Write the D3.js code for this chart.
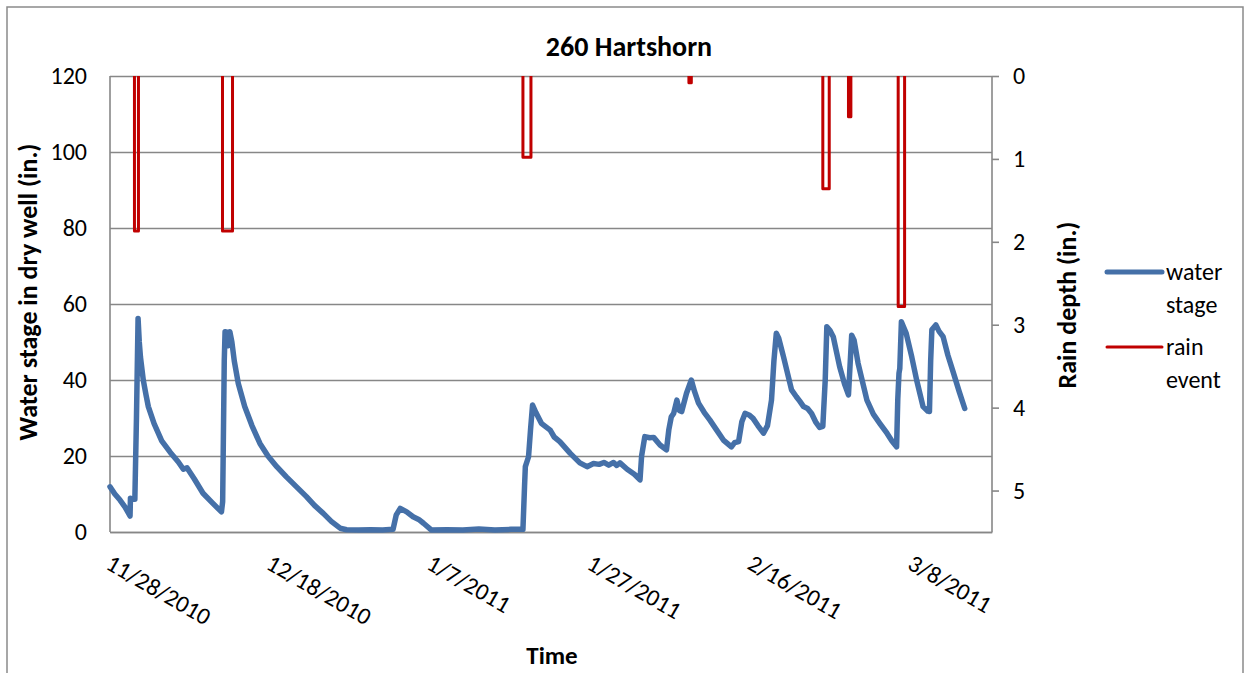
<!DOCTYPE html>
<html>
<head>
<meta charset="utf-8">
<script src="https://cdn.jsdelivr.net/npm/d3@7/dist/d3.min.js"></script>
<style>
  html, body { margin: 0; padding: 0; background: #fff; }
  svg { display: block; }
  text { font-family: Carlito, Calibri, Lato, "Open Sans", sans-serif; fill: #000; }
</style>
</head>
<body>
<svg id="chart" width="1250" height="673"></svg>
<script>
// ---------------- DATA ----------------
const chartTitle = "260 Hartshorn";
const xTitle = "Time";
const yLeftTitle = "Water stage in dry well (in.)";
const yRightTitle = "Rain depth (in.)";
const seriesNames = ["water stage", "rain event"];

// time reference: days counted from this date
const startDate = "2010-11-28";
const endDate = "2011-03-18";
const xTickLabels = ["11/28/2010", "12/18/2010", "1/7/2011", "1/27/2011", "2/16/2011", "3/8/2011"];
const yLeftTicks = [0, 20, 40, 60, 80, 100, 120];
const yRightTicks = [0, 1, 2, 3, 4, 5];

// water stage series: time (days since startDate) and stage (in.)
const stageDays = [
  0, 0.6, 1.25, 1.9, 2.5, 2.55, 2.9, 3.1, 3.3, 3.5, 3.65, 3.8, 4.15, 4.5, 4.78, 5.5, 6.45, 7.5, 8.5, 9.15,
  9.6, 10.5, 11.6, 12.8, 13.9, 14.05, 14.25, 14.35, 14.6, 14.75, 14.95, 15.2, 15.5, 16.0, 16.8, 17.7, 18.7, 19.7, 20.8, 22,
  23.2, 24.5, 25.5, 26.6, 27.6, 28.7, 29.5, 31, 32.5, 34, 35.3, 35.7, 36.2, 37.0, 37.8, 38.5, 39.1, 40.1, 42, 44,
  46, 48, 50, 51.5, 51.7, 51.8, 52.2, 52.45, 52.7, 53.1, 53.8, 54.9, 55.4, 56.1, 57.4, 58.6, 59.5, 60.3, 61.0, 61.6,
  62.2, 62.8, 63.2, 63.6, 64.5, 65.4, 66.1, 66.3, 66.7, 67.3, 67.8, 68.6, 69.4, 69.7, 70.0, 70.3, 70.7, 71.0, 71.3, 71.9,
  72.5, 72.9, 73.4, 74.1, 74.8, 75.6, 76.5, 77.5, 77.9, 78.4, 78.8, 79.2, 79.7, 80.2, 80.8, 81.5, 82.0, 82.5, 82.8, 83.1,
  83.4, 84.0, 85.0, 85.6, 86.0, 86.5, 87.0, 87.5, 88.0, 88.5, 88.9, 89.2, 89.4, 89.8, 90.2, 91.0, 91.6, 92.1, 92.3, 92.5,
  92.8, 93.3, 94.4, 95.2, 96.0, 96.9, 97.5, 98.1, 98.25, 98.4, 98.5, 98.7, 99.3, 100.0, 100.6, 101.4, 102.0, 102.2, 102.35, 102.5,
  103.0, 103.4, 103.9, 104.5, 105.2, 105.9, 106.6
];
const stageValues = [
  11.9, 10.0, 8.4, 6.5, 4.2, 8.9, 8.6, 8.6, 30, 56.2, 50, 46, 40, 36, 33, 28.5, 24, 21, 18.5, 16.5,
  16.9, 14, 10.2, 7.6, 5.3, 8, 45, 52.7, 52.6, 49, 52.7, 50, 45, 39.1, 33, 28, 23.3, 20, 17.2, 14.5,
  12, 9.3, 7.0, 4.9, 2.8, 1.0, 0.6, 0.5, 0.6, 0.5, 0.7, 4.5, 6.2, 5.3, 4.0, 3.3, 2.3, 0.5, 0.6, 0.5,
  0.8, 0.5, 0.7, 0.7, 12, 17.2, 19.8, 27, 33.4, 31.5, 28.6, 26.8, 25, 23.8, 20.7, 18.2, 17.2, 18, 17.8, 18.3,
  17.6, 18.3, 17.5, 18.2, 16.5, 15.2, 13.7, 20, 25.1, 24.8, 24.9, 22.9, 21.6, 27, 30.3, 31.2, 34.7, 32, 31.7, 36.5,
  40, 37, 33.9, 31.5, 29.5, 27, 24.2, 22.4, 23.5, 23.8, 29, 31.2, 30.8, 29.9, 28, 26.0, 28, 34.7, 45, 52.3,
  51, 46.1, 37.4, 35.6, 34.5, 33.0, 32.5, 31.2, 29, 27.5, 27.8, 40, 54.0, 53, 51.4, 43.5, 39, 36.1, 44, 51.8,
  50.5, 44.4, 34.7, 31, 28.6, 26.0, 24, 22.4, 35, 41.8, 43, 55.3, 52.3, 46, 40, 33, 31.8, 31.7, 45, 53.2,
  54.5, 52.8, 51.4, 46.5, 41.8, 37, 32.5
];

// rain events: start / end (days since startDate) and depth (in.)
const rainStartDays = [3.05, 14.03, 51.5, 72.2, 88.9, 92.1, 98.3];
const rainEndDays   = [3.55, 15.28, 52.5, 72.5, 89.7, 92.4, 99.1];
const rainDepths    = [1.87, 1.87, 0.98, 0.08, 1.36, 0.49, 2.78];

// ---------------- DRAW ----------------
const svg = d3.select("#chart");
const plot = { left: 110, right: 992, top: 76, bottom: 532 };
const stageColor = "#4570A8";
const rainColor = "#C00000";
const gridColor = "#878787";
const FONT = "Carlito, Calibri, Lato, sans-serif";

const parse = d3.timeParse("%Y-%m-%d");
const t0 = parse(startDate), t1 = parse(endDate);
const dayToDate = d => new Date(t0.getTime() + d * 864e5);
const parseLabel = d3.timeParse("%m/%d/%Y");

const x = d3.scaleTime().domain([t0, t1]).range([plot.left, plot.right]);
const yL = d3.scaleLinear().domain([0, 120]).range([plot.bottom, plot.top]);
const yR = d3.scaleLinear().domain([0, 5.5]).range([plot.top, plot.bottom]);

// outer chart border
svg.append("rect").attr("x", 7).attr("y", 7).attr("width", 1236).attr("height", 700)
  .attr("fill", "#fff").attr("stroke", "#8a8a8a").attr("stroke-width", 1.5);

// gridlines (left axis)
const gLeft = svg.append("g").attr("transform", `translate(${plot.left},0)`)
  .call(d3.axisLeft(yL).tickValues(yLeftTicks).tickSize(-(plot.right - plot.left)).tickPadding(23).tickFormat(d3.format("d")));
gLeft.select(".domain").remove();
gLeft.selectAll(".tick line").attr("stroke", gridColor).attr("stroke-width", 1.6);
gLeft.selectAll(".tick text").attr("font-size", 24).attr("font-family", FONT).attr("fill", "#000");

// left axis line
svg.append("line").attr("x1", plot.left).attr("x2", plot.left).attr("y1", plot.top).attr("y2", plot.bottom)
  .attr("stroke", gridColor).attr("stroke-width", 1.6);

// right axis
const gRight = svg.append("g").attr("transform", `translate(${plot.right},0)`)
  .call(d3.axisRight(yR).tickValues(yRightTicks).tickSize(7).tickPadding(14).tickFormat(d3.format("d")));
gRight.select(".domain").attr("stroke", gridColor).attr("stroke-width", 1.6).attr("d", `M0,${plot.top}V${plot.bottom}`);
gRight.selectAll(".tick line").attr("stroke", gridColor).attr("stroke-width", 1.6);
gRight.selectAll(".tick text").attr("font-size", 24).attr("font-family", FONT).attr("fill", "#000");

// bottom axis
const gBottom = svg.append("g").attr("transform", `translate(0,${plot.bottom})`)
  .call(d3.axisBottom(x).tickValues(xTickLabels.map(parseLabel)).tickSize(0).tickFormat(d3.timeFormat("%-m/%-d/%Y")));
gBottom.select(".domain").attr("stroke", gridColor).attr("stroke-width", 1.6);
gBottom.selectAll(".tick text")
  .attr("font-size", 24).attr("font-family", FONT).attr("fill", "#000")
  .attr("text-anchor", "start")
  .attr("y", 0).attr("dy", 0)
  .attr("transform", "translate(-6,36) rotate(30)");

// rain events
const rainEvents = rainDepths.map((d, i) => ({ s: rainStartDays[i], e: rainEndDays[i], depth: d }));
svg.append("g").selectAll("path").data(rainEvents).join("path")
  .attr("d", ev => {
    const xs = x(dayToDate(ev.s)), xe = x(dayToDate(ev.e));
    return `M${xs},${yR(0)}V${yR(ev.depth)}H${xe}V${yR(0)}`;
  })
  .attr("fill", "none").attr("stroke", rainColor).attr("stroke-width", 3)
  .attr("stroke-linejoin", "round");

// water stage line
const stageData = stageDays.map((d, i) => ({ t: dayToDate(d), v: stageValues[i] }));
svg.append("path").datum(stageData)
  .attr("d", d3.line().x(d => x(d.t)).y(d => yL(d.v)))
  .attr("fill", "none").attr("stroke", stageColor).attr("stroke-width", 5.5)
  .attr("stroke-linejoin", "round").attr("stroke-linecap", "round");

// title
svg.append("text").attr("x", 629).attr("y", 56).attr("text-anchor", "middle")
  .attr("font-size", 28).attr("font-weight", "bold").text(chartTitle);

// axis titles
svg.append("text").attr("x", 552).attr("y", 664).attr("text-anchor", "middle")
  .attr("font-size", 25).attr("font-weight", "bold").text(xTitle);
svg.append("text").attr("transform", `translate(37,292) rotate(-90)`).attr("text-anchor", "middle")
  .attr("font-size", 26).attr("font-weight", "bold").text(yLeftTitle);
svg.append("text").attr("transform", `translate(1076,305) rotate(-90)`).attr("text-anchor", "middle")
  .attr("font-size", 26).attr("font-weight", "bold").text(yRightTitle);

// legend
const legend = svg.append("g");
const legendItems = [
  { color: stageColor, width: 5, y: 272, lines: seriesNames[0].split(" ") },
  { color: rainColor, width: 3, y: 347, lines: seriesNames[1].split(" ") }
];
legendItems.forEach(it => {
  legend.append("line").attr("x1", 1107).attr("x2", 1162).attr("y1", it.y).attr("y2", it.y)
    .attr("stroke", it.color).attr("stroke-width", it.width).attr("stroke-linecap", "round");
  const t = legend.append("text").attr("x", 1166).attr("y", it.y + 8).attr("font-size", 24);
  it.lines.forEach((l, j) => t.append("tspan").attr("x", 1166).attr("dy", j === 0 ? 0 : 33).text(l));
});
</script>
</body>
</html>
